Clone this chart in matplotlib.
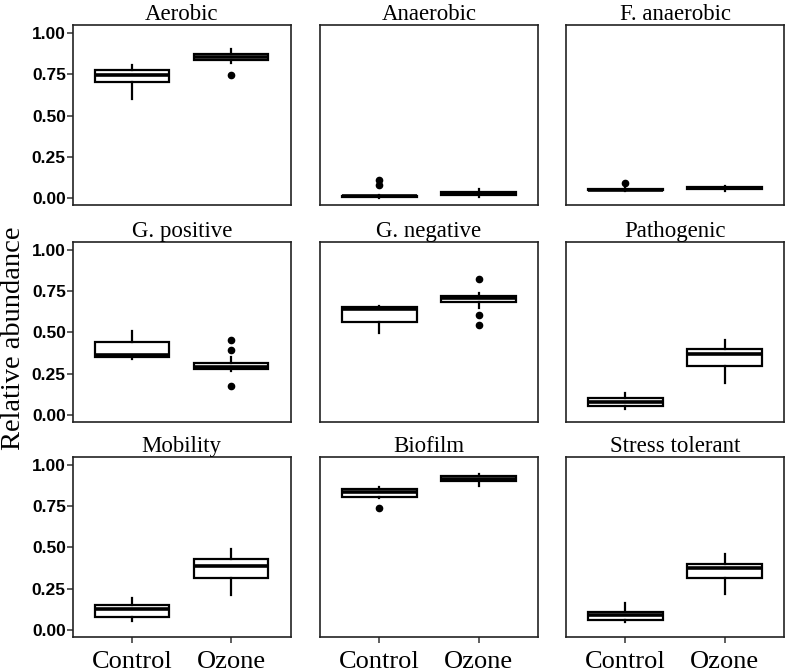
import matplotlib.pyplot as plt
import numpy as np

# panel titles (row by row)
titles = ['Aerobic', 'Anaerobic', 'F. anaerobic',
          'G. positive', 'G. negative', 'Pathogenic',
          'Mobility', 'Biofilm', 'Stress tolerant']
groups = ['Control', 'Ozone']

# box stats: [whislo, q1, med, q3, whishi]
control_box = [
    [0.603, 0.704, 0.748, 0.778, 0.805],
    [0.003, 0.006, 0.010, 0.014, 0.018],
    [0.044, 0.047, 0.052, 0.056, 0.060],
    [0.339, 0.349, 0.363, 0.441, 0.507],
    [0.495, 0.563, 0.643, 0.651, 0.661],
    [0.035, 0.055, 0.080, 0.100, 0.133],
    [0.055, 0.079, 0.128, 0.151, 0.193],
    [0.800, 0.807, 0.837, 0.852, 0.868],
    [0.045, 0.061, 0.091, 0.110, 0.163],
]
ozone_box = [
    [0.819, 0.835, 0.855, 0.875, 0.905],
    [0.005, 0.020, 0.027, 0.034, 0.058],
    [0.045, 0.054, 0.061, 0.068, 0.075],
    [0.267, 0.277, 0.291, 0.312, 0.353],
    [0.647, 0.686, 0.706, 0.721, 0.737],
    [0.193, 0.298, 0.367, 0.400, 0.456],
    [0.213, 0.315, 0.386, 0.427, 0.488],
    [0.872, 0.900, 0.916, 0.933, 0.943],
    [0.218, 0.313, 0.374, 0.402, 0.457],
]
control_out = [[], [0.080, 0.112], [0.089], [], [], [], [], [0.736], []]
ozone_out = [[0.746], [], [], [0.174, 0.394, 0.454], [0.546, 0.604, 0.823], [], [], [], []]

W, H = 787, 672
fig = plt.figure(figsize=(W / 100, H / 100), dpi=100)

col_left = [72.7, 320, 566]
row_top = [25, 241.7, 456.7]
pw, ph = 218, 180

serif = 'Liberation Serif'
sans = 'Liberation Sans'

def make_stats(b, out):
    return dict(whislo=b[0], q1=b[1], med=b[2], q3=b[3], whishi=b[4], fliers=out)

for k in range(9):
    r, c = divmod(k, 3)
    ax = fig.add_axes([col_left[c] / W, 1 - (row_top[r] + ph) / H, pw / W, ph / H])
    stats = [make_stats(control_box[k], control_out[k]),
             make_stats(ozone_box[k], ozone_out[k])]
    ax.bxp(stats, positions=[1, 2], widths=0.75, showcaps=False, patch_artist=True,
           boxprops=dict(facecolor='white', edgecolor='black', linewidth=1.6),
           whiskerprops=dict(color='black', linewidth=1.6),
           medianprops=dict(color='black', linewidth=2.6),
           flierprops=dict(marker='o', markerfacecolor='black', markeredgecolor='black',
                           markersize=4.5, linestyle='none'))
    ax.set_xlim(0.4, 2.6)
    ax.set_ylim(-0.042, 1.05)
    for s in ax.spines.values():
        s.set_linewidth(1.2)
        s.set_color('#222222')
    ax.set_title(titles[k], fontsize=16.5, family=serif, pad=2)
    ax.set_yticks([0, 0.25, 0.5, 0.75, 1.0])
    ax.set_xticks([1, 2])
    ax.tick_params(length=4, width=1.1, color='#333333')
    if c == 0:
        ax.set_yticklabels(['0.00', '0.25', '0.50', '0.75', '1.00'],
                           fontsize=12.5, family=sans, fontweight='bold')
        ax.tick_params(axis='y', pad=1)
    else:
        ax.tick_params(axis='y', left=False, labelleft=False)
    if r == 2:
        ax.set_xticklabels(groups, fontsize=19, family=serif)
        ax.tick_params(axis='x', pad=6)
    else:
        ax.tick_params(axis='x', bottom=False, labelbottom=False)

fig.text(14 / W, 1 - 338 / H, 'Relative abundance', rotation=90, ha='center', va='center',
         fontsize=20.5, family=serif)

fig.savefig('out.png', dpi=100)
